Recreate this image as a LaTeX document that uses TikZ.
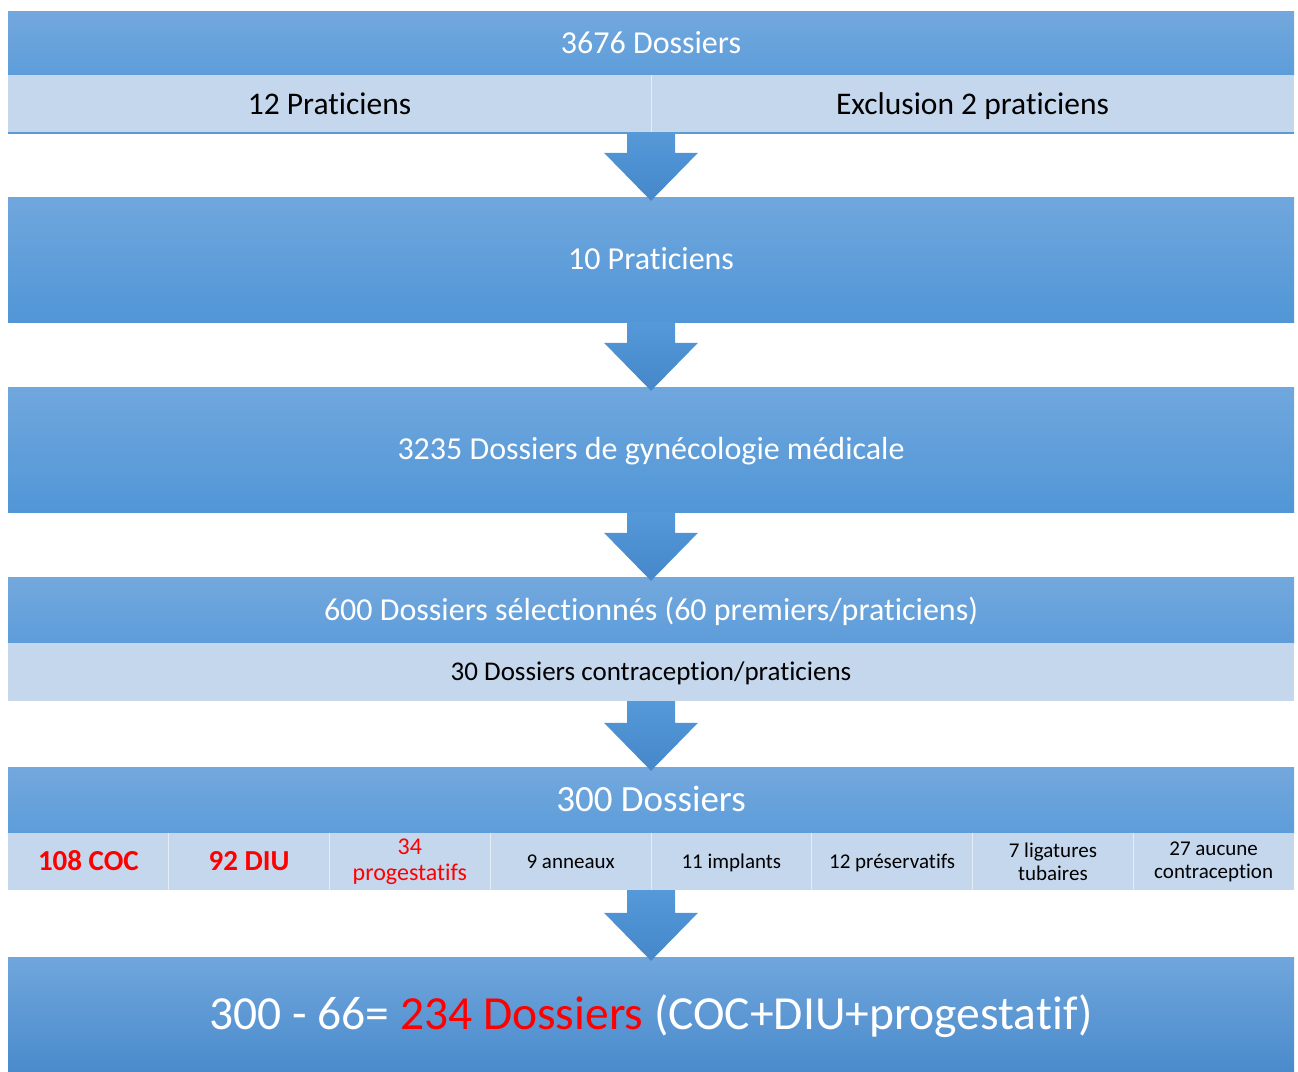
\documentclass[tikz,border=0pt]{standalone}
\usepackage{fontspec}
\setmainfont{Carlito}[Ligatures={NoCommon}]
\usetikzlibrary{calc}

\definecolor{hauttete}{HTML}{73A8DD}
\definecolor{bastete}{HTML}{5D9DDA}
\definecolor{hautbloc}{HTML}{70A7DD}
\definecolor{basbloc}{HTML}{5196D7}
\definecolor{hautfinal}{HTML}{70A6DC}
\definecolor{basfinal}{HTML}{4A8BCC}
\definecolor{clair}{HTML}{C5D7ED}
\definecolor{hautfleche}{HTML}{5599D9}
\definecolor{basfleche}{HTML}{4587C9}
\definecolor{trait}{HTML}{5B9BD5}

% fleche bloc d'un bord inferieur vers le haut du bloc suivant
\newcommand{\flechebas}[2]{%
  \path[blockarrow] ($(#2.north |- #1)+(-24,0)$) -- ($(#2.north)+(-24,44)$)
    -- ($(#2.north)+(-47,44)$) -- ($(#2.north)+(0,-4)$)
    -- ($(#2.north)+(47,44)$) -- ($(#2.north)+(24,44)$)
    -- ($(#2.north |- #1)+(24,0)$) -- cycle;}

\begin{document}
\begin{tikzpicture}[x=1pt,y=1pt,
    ligne/.style={text height=#1, text depth=0pt},
    tete/.style={ligne=20.6pt, top color=hauttete, bottom color=bastete, text=white, inner sep=0pt,
      minimum width=1286pt, font=\fontsize{32}{38}\selectfont},
    bloc/.style={ligne=20.6pt, top color=hautbloc, bottom color=basbloc, text=white, inner sep=0pt,
      minimum width=1286pt, minimum height=125pt, font=\fontsize{32}{38}\selectfont},
    rang/.style={ligne=20.3pt, fill=clair, text=black, inner sep=0pt, minimum height=58pt,
      font=\fontsize{31.5}{38}\selectfont},
    case/.style={fill=clair, text=black, inner sep=0pt, align=center,
      minimum width=160.75pt, minimum height=57pt, font=\fontsize{21}{23}\selectfont},
    rouge/.style={ligne=18.7pt, text=red, font=\fontsize{29}{34}\selectfont\bfseries},
    sep/.style={draw=white, draw opacity=0.55, line width=1pt},
    blockarrow/.style={top color=hautfleche, bottom color=basfleche}]
    \useasboundingbox (0,0) rectangle (1298,-1071);

    % 3676 dossiers
    \node[tete, minimum height=64pt] (t1) at (651,-43) {3676 Dossiers};
    \node[rang, minimum width=643pt] (r1) at (329.5,-104) {12 Praticiens};
    \node[rang, minimum width=643pt] (r2) at (972.5,-104) {Exclusion 2 praticiens};
    \draw[sep] (r1.north east) -- (r1.south east);
    \draw[draw=trait, line width=2pt] (r1.south west) -- (r2.south east);

    \node[bloc] (b2) at (651,-259.5) {10 Praticiens};
    \node[bloc] (b3) at (651,-449.5) {3235 Dossiers de gynécologie médicale};

    \node[tete, minimum height=66pt] (t4) at (651,-610) {600 Dossiers sélectionnés (60 premiers/praticiens)};
    \node[rang, ligne=17.4pt, minimum width=1286pt, font=\fontsize{27}{32}\selectfont] (r4) at (651,-672) {30 Dossiers contraception/praticiens};

    % 300 dossiers et repartition
    \node[tete, ligne=23.8pt, minimum height=66pt, font=\fontsize{37}{44}\selectfont] (t5) at (651,-800) {300 Dossiers};
    \node[case, rouge] (c1) at (88.375,-861.5) {108 COC};
    \node[case, rouge] (c2) at (249.125,-861.5) {92 DIU};
    \node[case, text=red, font=\fontsize{24}{26}\selectfont] (c3) at (409.875,-861.5) {34\\progestatifs};
    \node[case, ligne=13.5pt] (c4) at (570.625,-861.5) {9 anneaux};
    \node[case, ligne=13.5pt] (c5) at (731.375,-861.5) {11 implants};
    \node[case, ligne=13.5pt] (c6) at (892.125,-861.5) {12 préservatifs};
    \node[case] (c7) at (1052.875,-861.5) {7 ligatures\\tubaires};
    \node[case] (c8) at (1213.625,-861.5) {27 aucune\\contraception};
    \draw[sep] (c1.north east) -- (c1.south east);
    \draw[sep] (c2.north east) -- (c2.south east);
    \draw[sep] (c3.north east) -- (c3.south east);
    \draw[sep] (c4.north east) -- (c4.south east);
    \draw[sep] (c5.north east) -- (c5.south east);
    \draw[sep] (c6.north east) -- (c6.south east);
    \draw[sep] (c7.north east) -- (c7.south east);

    \node[ligne=30.6pt, top color=hautfinal, bottom color=basfinal, text=white, inner sep=0pt,
      minimum width=1286pt, minimum height=114pt, font=\fontsize{47.5}{56}\selectfont]
      (b6) at (651,-1014) {300 - 66= {\color{red}234 Dossiers} (COC+DIU+progestatif)};

    \flechebas{r1.south}{b2}
    \flechebas{b2.south}{b3}
    \flechebas{b3.south}{t4}
    \flechebas{r4.south}{t5}
    \flechebas{c4.south}{b6}
\end{tikzpicture}
\end{document}
